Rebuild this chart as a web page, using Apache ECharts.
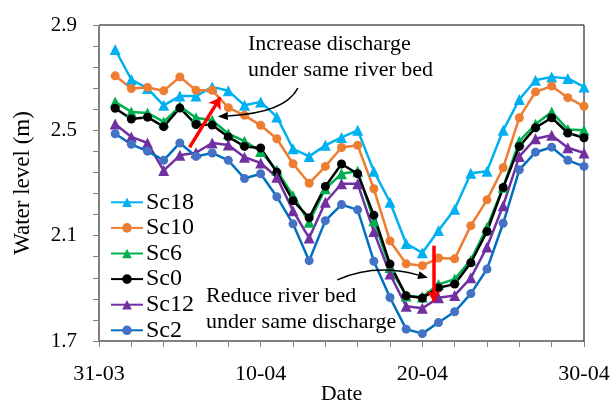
<!DOCTYPE html>
<html><head><meta charset="utf-8">
<script src="https://cdn.jsdelivr.net/npm/echarts@6/dist/echarts.min.js"></script>
<style>html,body{margin:0;padding:0;background:#fff}#c{width:616px;height:403px}</style>
</head><body><div id="c"></div>
<script>
// Dates (day offset from 31-03 is index+1)
const dates = ['01-04','02-04','03-04','04-04','05-04','06-04','07-04','08-04','09-04','10-04',
  '11-04','12-04','13-04','14-04','15-04','16-04','17-04','18-04','19-04','20-04',
  '21-04','22-04','23-04','24-04','25-04','26-04','27-04','28-04','29-04','30-04'];
const xTickLabels = {0:'31-03',10:'10-04',20:'20-04',30:'30-04'};
const yTicks = [1.7, 2.1, 2.5, 2.9];

const sc18 = [2.807,2.693,2.659,2.595,2.630,2.630,2.665,2.650,2.595,2.608,2.551,2.430,2.401,2.443,2.473,2.500,2.345,2.227,2.070,2.035,2.120,2.200,2.337,2.345,2.500,2.617,2.690,2.703,2.697,2.665];
const sc10 = [2.707,2.659,2.663,2.650,2.703,2.652,2.652,2.586,2.557,2.519,2.468,2.373,2.299,2.363,2.435,2.443,2.278,2.080,1.993,1.986,2.015,2.012,2.138,2.236,2.358,2.548,2.646,2.668,2.624,2.591];
const sc6  = [2.608,2.570,2.566,2.532,2.591,2.548,2.538,2.487,2.459,2.420,2.348,2.252,2.151,2.278,2.335,2.345,2.157,1.979,1.871,1.867,1.915,1.935,2.007,2.132,2.284,2.459,2.523,2.570,2.503,2.500];
const sc0  = [2.584,2.543,2.550,2.514,2.585,2.522,2.520,2.475,2.439,2.433,2.341,2.233,2.168,2.287,2.372,2.335,2.178,1.992,1.872,1.863,1.902,1.916,1.997,2.116,2.283,2.439,2.510,2.548,2.490,2.472];
const sc12 = [2.524,2.475,2.452,2.347,2.405,2.415,2.452,2.444,2.398,2.376,2.322,2.195,2.091,2.227,2.297,2.297,2.116,1.954,1.832,1.824,1.864,1.873,1.940,2.057,2.214,2.401,2.468,2.481,2.434,2.414];
const sc2  = [2.487,2.447,2.421,2.386,2.452,2.401,2.414,2.386,2.317,2.335,2.248,2.145,2.005,2.157,2.218,2.198,2.003,1.865,1.745,1.728,1.770,1.811,1.880,1.973,2.147,2.350,2.417,2.436,2.386,2.363];

const FONT = 'Liberation Serif';
function pts(arr){ return arr.map((v,i)=>[i+1, v]); }

const seriesDefs = [
  {name:'Sc18', data:sc18, line:'#00b0f0', mk:'#00b0f0', sym:'triangle', size:11},
  {name:'Sc10', data:sc10, line:'#ed7d31', mk:'#ed7d31', sym:'circle', size:9},
  {name:'Sc6',  data:sc6,  line:'#00b050', mk:'#00b050', sym:'triangle', size:11},
  {name:'Sc0',  data:sc0,  line:'#000000', mk:'#000000', sym:'circle', size:9},
  {name:'Sc12', data:sc12, line:'#7030a0', mk:'#7030a0', sym:'triangle', size:11},
  {name:'Sc2',  data:sc2,  line:'#0070c0', mk:'#4472c4', sym:'circle', size:9}
];

const series = seriesDefs.map(s=>({
  name:s.name, type:'line', data:pts(s.data), symbol:s.sym, symbolSize:s.size,
  showSymbol:true, animation:false,
  lineStyle:{color:s.line, width:2.5},
  itemStyle:{color:s.mk, borderWidth:0}
}));

// red annotation arrows (in data coordinates)
series.push({
  type:'line', data:[], silent:true, animation:false,
  markLine:{
    silent:true, symbol:['none','arrow'], symbolSize:11, label:{show:false},
    lineStyle:{type:'solid'},
    emphasis:{disabled:true},
    data:[
      [{coord:[5.6,2.435], lineStyle:{color:'#ff0000', width:3.5, type:'solid'}}, {coord:[7.5,2.625]}],
      [{coord:[20.7,2.062], lineStyle:{color:'#ff0000', width:3.5, type:'solid'}}, {coord:[20.7,1.85]}]
    ]
  }
});

// curved black arrows: [start, control, end] in data coordinates
const curvedArrows = [
  [[12.3,2.66],[11.5,2.565],[7.35,2.553]],
  [[14.74,1.932],[17.1,1.996],[20.35,1.94]]
];

const chart = echarts.init(document.getElementById('c'), null, {renderer:'canvas'});
chart.setOption({
  animation:false,
  grid:{left:99, right:32, top:25, bottom:62, show:true, borderColor:'#000', borderWidth:1,
        backgroundColor:'transparent', containLabel:false, outerBoundsMode:'none'},
  xAxis:{
    type:'value', min:0, max:30, interval:2,
    name:'Date', nameLocation:'middle', nameGap:42, nameMoveOverlap:false,
    nameTextStyle:{fontFamily:FONT, fontSize:22, color:'#000', verticalAlign:'top'},
    axisLine:{lineStyle:{color:'#808080', width:1}},
    axisTick:{show:true, length:6, lineStyle:{color:'#808080'}},
    splitLine:{show:false},
    axisLabel:{fontFamily:FONT, fontSize:22, color:'#000', margin:22,
      formatter:v=> (xTickLabels[v] !== undefined ? xTickLabels[v] : '')}
  },
  yAxis:{
    type:'value', min:yTicks[0], max:yTicks[yTicks.length-1], interval:0.4,
    name:'Water level (m)', nameLocation:'middle', nameGap:65, nameMoveOverlap:false,
    nameTextStyle:{fontFamily:FONT, fontSize:23, color:'#000'},
    axisLine:{show:true, lineStyle:{color:'#808080', width:1}},
    axisTick:{show:true, length:6, lineStyle:{color:'#808080'}},
    minorTick:{show:true, splitNumber:5, length:6, lineStyle:{color:'#808080'}},
    splitLine:{show:false},
    axisLabel:{fontFamily:FONT, fontSize:21, color:'#000', margin:22, formatter:v=>v.toFixed(1)}
  },
  legend:{
    orient:'vertical', left:110, top:190, padding:0, itemWidth:32, itemHeight:12, itemGap:1,
    textStyle:{fontFamily:FONT, fontSize:24, color:'#000', lineHeight:24.6, padding:[0,0,0,-2]},
    data:seriesDefs.map(s=>s.name)
  },
  series:series
});

const graphics = [
  {type:'text', left:248, top:31, style:{text:'Increase discharge\nunder same river bed', font:'22px "Liberation Serif"', fill:'#000', lineHeight:26}},
  {type:'text', left:206, top:283, style:{text:'Reduce river bed\nunder same discharge', font:'22px "Liberation Serif"', fill:'#000', lineHeight:26}}
];
curvedArrows.forEach(a=>{
  const p = a.map(c=>chart.convertToPixel({gridIndex:0}, c));
  const [s, cp, e] = p;
  const dx = e[0]-cp[0], dy = e[1]-cp[1];
  const len = Math.hypot(dx,dy); const ux = dx/len, uy = dy/len;
  const L = 10, W = 4;
  const bx = e[0]-ux*L, by = e[1]-uy*L;
  graphics.push({type:'bezierCurve', silent:true, z:50,
    shape:{x1:s[0], y1:s[1], x2:bx, y2:by, cpx1:cp[0], cpy1:cp[1]},
    style:{stroke:'#000', lineWidth:1.5, fill:null}});
  graphics.push({type:'polygon', silent:true, z:50,
    shape:{points:[[e[0],e[1]],[bx-uy*W, by+ux*W],[bx+uy*W, by-ux*W]]},
    style:{fill:'#000'}});
});
chart.setOption({graphic:graphics});
</script></body></html>
